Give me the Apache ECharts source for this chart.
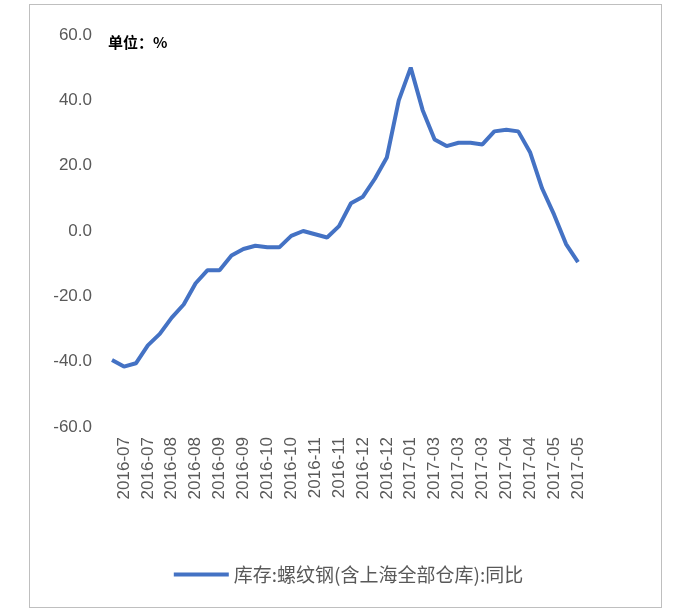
<!DOCTYPE html>
<html>
<head>
<meta charset="utf-8">
<script src="https://cdn.jsdelivr.net/npm/echarts@6/dist/echarts.min.js"></script>
<style>
  html, body { margin: 0; padding: 0; background: #fff; }
  #frame { position: absolute; left: 29px; top: 4px; width: 631px; height: 602px; border: 1px solid #bfbfbf; }
  #chart { width: 697px; height: 615px; }
</style>
</head>
<body>
<div id="frame"></div>
<div id="chart"></div>
<script>
// x轴标签（每两个点一个）
var monthLabels = ['2016-07', '2016-07', '2016-08', '2016-08', '2016-09', '2016-09', '2016-10', '2016-10',
    '2016-11', '2016-11', '2016-12', '2016-12', '2017-01', '2017-03', '2017-03', '2017-03',
    '2017-04', '2017-04', '2017-05', '2017-05'];
var categories = [];
monthLabels.forEach(function (m) { categories.push(m); categories.push(m); });

var seriesName = '库存:螺纹钢(含上海全部仓库):同比';
var values = [-39.5, -41.5, -40.5, -35, -31.5, -26.5, -22.5, -16, -12, -12,
    -7.5, -5.5, -4.5, -5, -5, -1.5, 0, -1, -2, 1.5,
    8.5, 10.5, 16, 22.5, 40, 50, 37, 28, 26, 27,
    27, 26.5, 30.5, 31, 30.5, 24, 13, 5, -4, -9.5];

var myChart = echarts.init(document.getElementById('chart'));
var option = {
    animation: false,
    graphic: [{
        type: 'text', left: 108, top: 35,
        style: { text: '单位：%', fill: '#000', font: 'bold 15px "Noto Sans CJK SC"' }
    }],
    legend: {
        data: [seriesName],
        bottom: 26,
        left: 'center',
        itemWidth: 55,
        itemHeight: 4,
        itemGap: 10,
        icon: 'rect',
        textStyle: { color: '#595959', fontSize: 19, fontFamily: 'Noto Sans CJK SC' }
    },
    grid: { left: 112, right: 119, top: 35, bottom: 188, containLabel: false },
    xAxis: {
        type: 'category',
        boundaryGap: false,
        data: categories,
        axisLine: { show: false },
        axisTick: { show: false },
        axisLabel: {
            interval: function (i) { return i % 2 === 1; },
            rotate: 90,
            color: '#595959',
            fontSize: 17,
            fontFamily: 'Liberation Sans',
            margin: 10
        }
    },
    yAxis: {
        type: 'value',
        min: -60, max: 60, interval: 20,
        axisLine: { show: false },
        axisTick: { show: false },
        splitLine: { show: false },
        axisLabel: {
            color: '#595959', fontSize: 17, fontFamily: 'Liberation Sans', margin: 20,
            formatter: function (v) { return v.toFixed(1); }
        }
    },
    series: [{
        name: seriesName,
        type: 'line',
        data: values,
        showSymbol: false,
        symbol: 'none',
        lineStyle: { color: '#4472C4', width: 4 },
        itemStyle: { color: '#4472C4' }
    }]
};
myChart.setOption(option);
</script>
</body>
</html>
